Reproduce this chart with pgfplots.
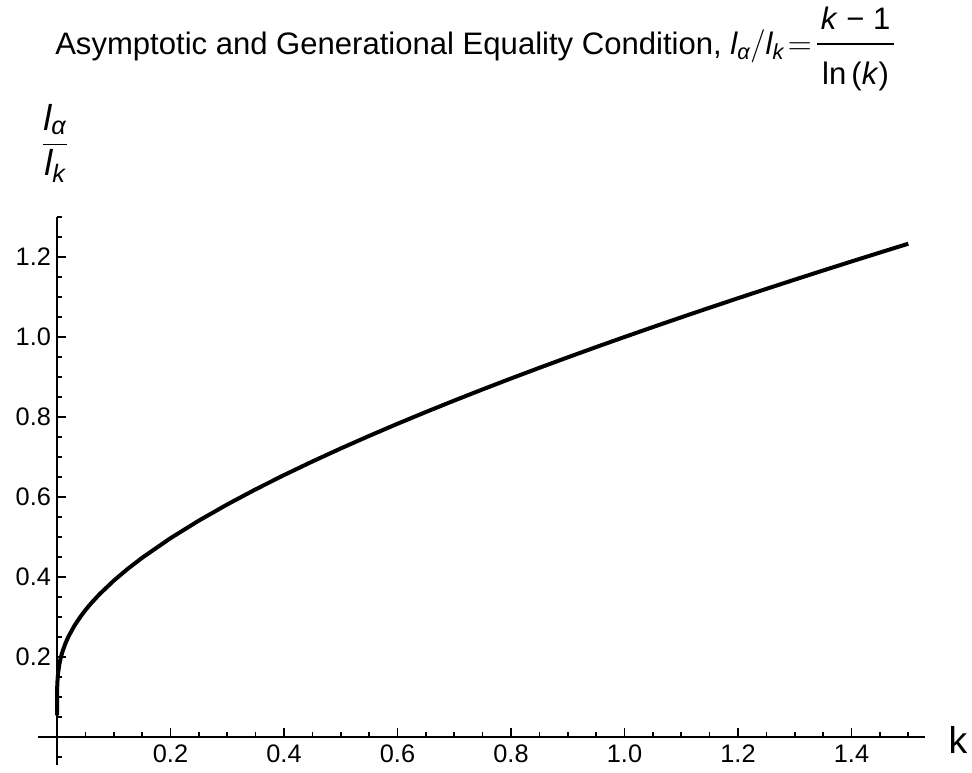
\documentclass[border=0pt]{standalone}
\usepackage{pgfplots}
\pgfplotsset{compat=1.18}
\usepackage{amsmath}
\usepackage{fontspec}
\setmainfont{Liberation Sans}
\pgfplotstableread{
k y
0.00000001 0.05429
0.0000001 0.0620
0.000001 0.0724
0.00001 0.08686
0.0001 0.10856
0.0002 0.11739
0.0005 0.13150
0.001 0.14462
0.002 0.16059
0.004 0.18039
0.005 0.18780
0.007 0.20013
0.01 0.21498
0.015 0.23454
0.02 0.25051
0.03 0.27662
0.04 0.29824
0.05 0.31712
0.06 0.33411
0.075 0.35710
0.1 0.39087
0.125 0.42079
0.15 0.44805
0.2 0.49707
0.25 0.54101
0.3 0.58141
0.35 0.61915
0.4 0.65481
0.45 0.68878
0.5 0.72135
0.55 0.75272
0.6 0.78305
0.65 0.81248
0.7 0.84110
0.75 0.86902
0.8 0.89628
0.85 0.92297
0.9 0.94912
0.95 0.97479
1.0 1.00000
1.05 1.02480
1.1 1.04921
1.15 1.07325
1.2 1.09696
1.25 1.12035
1.3 1.14345
1.35 1.16626
1.4 1.18881
1.45 1.21110
1.5 1.23315
}\curve
\begin{document}
\begin{tikzpicture}
\path[use as bounding box] (0,0) rectangle (729pt,579pt);
\begin{axis}[
  at={(28.5pt,5.25pt)}, anchor=south west,
  scale only axis, width=665.25pt, height=411pt,
  xmin=-0.0335, xmax=1.5295, ymin=-0.07, ymax=1.3,
  axis lines=middle, axis line style={-, line width=1.2pt},
  clip=false,
  xtick={0.2,0.4,...,1.4}, ytick={0.2,0.4,...,1.2},
  minor xtick={0.05,0.1,0.15,0.25,0.3,0.35,0.45,0.5,0.55,0.65,0.7,0.75,0.85,0.9,0.95,1.05,1.1,1.15,1.25,1.3,1.35,1.45,1.5},
  minor ytick={-0.05,0.05,0.1,0.15,0.25,0.3,0.35,0.45,0.5,0.55,0.65,0.7,0.75,0.85,0.9,0.95,1.05,1.1,1.15,1.25,1.3},
  tick align=inside,
  major tick length=6.75pt, minor tick length=3.75pt,
  tick style={black, line width=1.2pt},
  /pgf/number format/.cd, fixed, fixed zerofill, precision=1, assume math mode=true,
  /pgfplots/.cd,
  tick label style={font=\fontsize{19}{22}\selectfont},
  xticklabel style={yshift=-4.5pt, inner sep=1pt},
  yticklabel style={xshift=-1pt},
]
\addplot[black, line width=3pt] table[x=k, y=y] {\curve};
\end{axis}
\node[font=\fontsize{23.3}{27}\selectfont, anchor=base west, inner sep=0pt] at (41.25pt,537.75pt) {Asymptotic and Generational Equality Condition, $\text{\itshape l}_{\text{\itshape α}}/\text{\itshape l}_{\text{\itshape k}}\!=\!\raisebox{2pt}{$\dfrac{\text{\rule[-0.3em]{0pt}{0pt}\itshape k\/\upshape\ − 1}}{\text{\rule{0pt}{1.15em}\,ln\,(\itshape k\/\upshape)\,}}$}$};
\node[font=\fontsize{27}{32}\selectfont] at (41.25pt,471.75pt) {$\dfrac{\text{\itshape l}_{\text{\itshape α}}}{\text{\itshape l}_{\text{\itshape k}}}$};
\node[font=\fontsize{28}{32}\selectfont] at (718.5pt,24pt) {k};
\end{tikzpicture}
\end{document}
